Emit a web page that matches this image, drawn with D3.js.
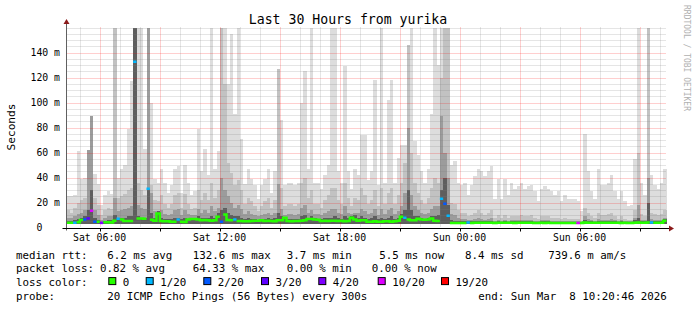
<!DOCTYPE html>
<html>
<head>
<meta charset="UTF-8">
<title>Last 30 Hours from yurika</title>
<script src="https://d3js.org/d3.v7.min.js"></script>
<style>
  html, body { margin: 0; padding: 0; background: #fff; }
  svg { display: block; font-family: "DejaVu Sans Mono", monospace; }
</style>
</head>
<body>
<svg id="chart" width="697" height="310"></svg>
<script>
// ---- data (10 minute columns, 30 hours ending Sun Mar 8 10:20:46 2026) ----
const endTime = Date.UTC(2026, 2, 8, 10, 20, 46);
const stepMin = 10;

// top of outermost smoke (max ping), ms
const maxMs = [
  25, 25, 26, 61, 39, 40, 62, 89, 43, 35, 18, 26, 29, 27, 160, 40, 47, 50, 79, 117,
  160, 160, 160, 63, 160, 100, 39, 36, 47, 36, 28, 34, 47, 49, 28, 50, 36, 26, 29, 79,
  45, 63, 42, 160, 47, 61, 160, 160, 115, 155, 91, 160, 71, 35, 47, 39, 34, 23, 34, 39,
  47, 28, 45, 127, 86, 34, 36, 36, 34, 36, 100, 125, 47, 160, 36, 36, 31, 42, 50, 160,
  160, 45, 36, 129, 45, 31, 47, 42, 74, 74, 38, 45, 118, 34, 160, 36, 102, 118, 36, 56,
  66, 66, 146, 160, 69, 58, 45, 36, 47, 91, 160, 130, 160, 160, 160, 50, 53, 36, 34, 36,
  26, 34, 41, 47, 45, 41, 45, 49, 23, 39, 23, 39, 26, 36, 31, 33, 36, 31, 33, 34,
  29, 21, 31, 33, 31, 29, 26, 29, 21, 26, 23, 23, 23, 21, 13, 75, 45, 29, 23, 47,
  34, 34, 36, 42, 29, 23, 29, 21, 17, 18, 55, 160, 36, 26, 160, 42, 34, 31, 36, 47
];
// upper smoke band, ms
const hiMs = [
  14, 12, 16, 20, 22, 24, 28, 36, 24, 18, 10, 14, 16, 15, 160, 24, 25, 27, 30, 32,
  160, 36, 30, 26, 160, 34, 22, 21, 26, 19, 16, 19, 26, 28, 16, 27, 19, 15, 16, 30,
  22, 28, 22, 36, 24, 30, 160, 115, 52, 44, 34, 38, 30, 19, 24, 21, 17, 13, 17, 21,
  24, 16, 22, 127, 32, 17, 19, 19, 17, 19, 36, 40, 24, 30, 19, 19, 16, 22, 26, 32,
  32, 22, 19, 36, 24, 17, 24, 22, 32, 26, 19, 22, 30, 17, 32, 19, 28, 32, 19, 26,
  36, 52, 146, 60, 36, 28, 22, 19, 24, 32, 40, 36, 120, 160, 160, 20, 19, 14, 12, 12,
  9, 10, 12, 14, 12, 10, 12, 14, 8, 10, 8, 10, 8, 9, 9, 9, 10, 9, 9, 10,
  8, 7, 9, 9, 9, 8, 8, 8, 7, 8, 7, 7, 7, 7, 5, 16, 12, 9, 8, 12,
  10, 10, 11, 12, 9, 7, 9, 7, 6, 6, 14, 60, 11, 9, 160, 12, 11, 10, 11, 14
];
// middle smoke band, ms
const midMs = [
  8, 8, 9, 11, 12, 14, 62, 89, 14, 10, 6, 8, 9, 9, 24, 13, 14, 15, 16, 17,
  160, 18, 16, 15, 160, 28, 13, 13, 14, 11, 10, 11, 14, 15, 10, 14, 11, 10, 10, 15,
  12, 14, 12, 17, 13, 16, 40, 30, 25, 20, 16, 18, 15, 11, 13, 11, 10, 9, 10, 11,
  12, 10, 12, 35, 15, 10, 11, 11, 10, 11, 16, 18, 12, 14, 11, 11, 10, 12, 13, 15,
  15, 12, 11, 17, 12, 11, 12, 12, 15, 13, 11, 12, 15, 10, 15, 11, 14, 16, 11, 13,
  17, 28, 80, 26, 17, 14, 12, 11, 12, 15, 17, 17, 89, 60, 40, 11, 10, 8, 7, 7,
  6, 6, 7, 8, 7, 6, 7, 8, 5, 6, 5, 6, 5, 6, 6, 6, 6, 6, 6, 6,
  5, 5, 6, 6, 6, 5, 5, 5, 5, 5, 5, 5, 5, 5, 4, 9, 7, 6, 5, 7,
  6, 6, 6, 7, 6, 5, 6, 5, 5, 5, 8, 18, 6, 6, 40, 7, 6, 6, 6, 8
];
// inner (darkest) smoke band, ms
const lowMs = [
  5, 5, 6, 7, 8, 9, 14, 30, 8, 6, 4, 5, 6, 6, 10, 8, 8, 8, 9, 9,
  160, 9, 8, 8, 31, 12, 8, 13, 8, 7, 7, 7, 8, 8, 7, 8, 7, 7, 7, 9,
  8, 8, 8, 9, 8, 12, 14, 16, 12, 10, 9, 9, 8, 7, 8, 7, 7, 6, 7, 7,
  8, 7, 8, 12, 9, 7, 7, 7, 7, 7, 9, 10, 8, 9, 8, 7, 7, 8, 8, 8,
  9, 8, 7, 9, 8, 9, 10, 8, 9, 8, 7, 8, 9, 7, 8, 7, 8, 9, 7, 8,
  11, 14, 30, 14, 9, 9, 8, 7, 8, 9, 9, 10, 30, 40, 18, 6, 5, 5, 5, 5,
  5, 5, 5, 5, 5, 5, 5, 5, 4, 5, 4, 5, 4, 5, 5, 5, 5, 5, 5, 5,
  4, 4, 5, 5, 5, 4, 4, 4, 4, 4, 4, 4, 4, 4, 4, 6, 5, 5, 4, 5,
  5, 5, 5, 5, 5, 4, 5, 4, 4, 4, 6, 8, 5, 5, 20, 5, 5, 5, 5, 7
];
// median rtt, ms
const medianMs = [
  3.9, 3.9, 3.9, 4.2, 6.0, 6.5, 7.3, 13.5, 4.7, 4.7, 3.7, 4.2, 4.2, 4.0, 5.5, 7.0, 6.5, 5.2, 5.2, 5.2,
  132.6, 7.3, 7.3, 7.0, 31.0, 6.2, 5.5, 11.3, 5.2, 5.0, 5.0, 4.7, 4.7, 6.5, 4.7, 4.5, 6.5, 6.8, 6.8, 6.5,
  5.8, 6.0, 5.8, 5.5, 5.8, 8.7, 4.7, 10.5, 6.0, 5.8, 6.5, 5.2, 5.2, 5.0, 5.0, 5.2, 5.5, 5.5, 5.8, 5.2,
  5.5, 5.2, 5.0, 5.8, 5.8, 7.9, 5.2, 5.0, 5.2, 5.2, 5.5, 5.8, 6.8, 6.8, 6.5, 6.2, 5.2, 5.5, 5.2, 5.5,
  5.5, 5.2, 5.5, 5.0, 5.2, 7.9, 6.5, 5.5, 5.8, 5.8, 4.7, 4.7, 5.0, 4.7, 4.7, 5.0, 5.0, 4.7, 5.0, 5.5,
  8.7, 7.9, 6.5, 5.8, 5.8, 7.0, 6.5, 6.2, 6.5, 7.3, 5.5, 5.2, 23.0, 19.0, 9.5, 3.7, 3.7, 3.7, 3.7, 3.7,
  4.1, 3.7, 3.9, 3.9, 3.9, 3.9, 3.9, 3.9, 3.7, 3.9, 3.9, 3.9, 3.9, 3.9, 3.7, 3.9, 3.9, 3.9, 3.9, 3.9,
  3.7, 3.7, 3.9, 3.7, 3.9, 3.7, 3.7, 3.7, 3.7, 3.7, 3.7, 3.7, 3.7, 3.7, 3.7, 4.1, 3.9, 3.9, 3.9, 3.9,
  3.9, 3.9, 3.9, 3.9, 3.9, 3.9, 3.7, 3.9, 3.7, 3.7, 3.9, 4.1, 3.9, 3.9, 4.1, 4.1, 3.9, 3.9, 3.9, 5.5
];
const baseMs = 2.5;

// columns with packet loss and their loss class
const lossCols = [2, 5, 6, 7, 8, 10, 15, 20, 24, 33, 46, 50, 101, 112, 113, 114, 120, 153, 175];
const lossVals = [1, 2, 3, 5, 2, 4, 1, 1, 1, 1, 2, 1, 1, 1, 2, 1, 1, 5, 1];

const lossLabels = ["0", "1/20", "2/20", "3/20", "4/20", "10/20", "19/20"];
const lossColors = ["#26ff00", "#00b8ff", "#0059ff", "#5e00ff", "#7e00ff", "#dd00ff", "#ff0000"];

const smokeColors = ["#dddddd", "#c2c2c2", "#9c9c9c", "#5e5e5e"];

const rttStats = ["6.2 ms avg", "132.6 ms max", "3.7 ms min", "5.5 ms now", "8.4 ms sd", "739.6 m am/s"];
const lossStats = ["0.82 % avg", "64.33 % max", "0.00 % min", "0.00 % now"];

// ---- layout ----
const svg = d3.select("#chart");
const L = 66.5, R = 666.5, T = 27.5, B = 227.5;
const startTime = endTime - 30 * 3600 * 1000;

const x = d3.scaleUtc().domain([new Date(startTime), new Date(endTime)]).range([L, R]);
const y = d3.scaleLinear().domain([0, 160]).range([B, T]);

const colTime = i => new Date(startTime + i * stepMin * 60000);
const cols = d3.range(maxMs.length);
const clampMs = v => Math.min(v, 160);

// smoke layers
const layers = [maxMs, hiMs, midMs, lowMs];
layers.forEach((arr, k) => {
  svg.append("g").selectAll("rect").data(cols).join("rect")
    .attr("x", i => x(colTime(i)))
    .attr("width", i => x(colTime(i + 1)) - x(colTime(i)) + 0.3)
    .attr("y", i => y(clampMs(arr[i])))
    .attr("height", i => Math.max(0, y(baseMs) - y(clampMs(arr[i]))))
    .attr("fill", smokeColors[k])
    .attr("shape-rendering", "crispEdges");
});

// grid (drawn over the smoke, like rrdtool)
const grid = svg.append("g");
const minorY = d3.range(5, 161, 5).filter(v => v % 20 !== 0 || v === 160);
const majorY = d3.range(20, 141, 20);
const gridLineY = (data, col, op) => grid.append("g").selectAll("line").data(data).join("line")
  .attr("x1", L).attr("x2", R)
  .attr("y1", d => Math.round(y(d)) + 0.5).attr("y2", d => Math.round(y(d)) + 0.5)
  .attr("stroke", col).attr("stroke-opacity", op).attr("stroke-dasharray", "1,1");
gridLineY(minorY, "#808080", 0.4);
gridLineY(majorY, "#ff0000", 0.38);

const hours = d3.utcHour.range(new Date(startTime), new Date(endTime));
const minorX = hours.filter(d => d.getUTCHours() % 3 !== 0);
const majorX = hours.filter(d => d.getUTCHours() % 3 === 0);
const gridLineX = (data, col, op) => grid.append("g").selectAll("line").data(data).join("line")
  .attr("x1", d => Math.round(x(d)) + 0.5).attr("x2", d => Math.round(x(d)) + 0.5)
  .attr("y1", T).attr("y2", B)
  .attr("stroke", col).attr("stroke-opacity", op).attr("stroke-dasharray", "1,1");
gridLineX(minorX, "#808080", 0.4);
gridLineX(majorX, "#ff0000", 0.38);

// median line, one path per loss colour
const lossOf = i => { const j = lossCols.indexOf(i); return j < 0 ? 0 : lossVals[j]; };
const medLine = d3.line().defined(d => d !== null).x(d => x(d[0])).y(d => y(clampMs(d[1])));
lossColors.forEach((c, k) => {
  const pts = [];
  cols.forEach(i => {
    if (lossOf(i) === k) {
      pts.push([colTime(i), medianMs[i]], [colTime(i + 1), medianMs[i]]);
      if (lossOf(i + 1) !== k) pts.push(null);
    }
  });
  if (!pts.length) return;
  svg.append("path").attr("d", medLine(pts))
    .attr("fill", "none").attr("stroke", c).attr("stroke-width", 2.5);
});

// axes
svg.append("line").attr("x1", L).attr("x2", L).attr("y1", B + 3).attr("y2", 24)
  .attr("stroke", "#606060");
svg.append("path").attr("d", `M${L - 3},24 L${L + 3},24 L${L},19 Z`).attr("fill", "#8b1a1a");
svg.append("line").attr("x1", L - 4).attr("x2", 670).attr("y1", B + 1).attr("y2", B + 1)
  .attr("stroke", "#000").attr("stroke-width", 1.2);
svg.append("path").attr("d", `M669,${B - 2} L669,${B + 4} L674,${B + 1} Z`).attr("fill", "#8b1a1a");

svg.selectAll(".xt").data(majorX).join("line")
  .attr("x1", d => Math.round(x(d)) + 0.5).attr("x2", d => Math.round(x(d)) + 0.5)
  .attr("y1", B + 1).attr("y2", B + 4).attr("stroke", "#000");

// y tick labels
const yFmt = v => v === 0 ? "0\u00a0\u00a0\u00a0" : v + " m";
svg.append("g").selectAll("text").data(d3.range(0, 141, 20)).join("text")
  .attr("x", 60).attr("y", d => y(d) + 3.5)
  .attr("text-anchor", "end").attr("font-size", 9.8).attr("fill", "#000")
  .text(yFmt);

// x tick labels
const labelTimes = hours.filter(d => d.getUTCHours() % 6 === 0);
const xFmt = d3.utcFormat("%a %H:%M");
svg.append("g").selectAll("text").data(labelTimes).join("text")
  .attr("x", d => x(d)).attr("y", 241)
  .attr("text-anchor", "middle").attr("font-size", 9.8).attr("fill", "#000")
  .text(xFmt);

// titles
svg.append("text").attr("x", 348).attr("y", 24).attr("text-anchor", "middle")
  .attr("font-size", 13.2).text("Last 30 Hours from yurika");
svg.append("text").attr("transform", "translate(15,127) rotate(-90)")
  .attr("text-anchor", "middle").attr("font-size", 11.2).text("Seconds");
svg.append("text").attr("transform", "translate(684,5) rotate(90)")
  .attr("font-size", 8).attr("fill", "#b0b0b0").text("RRDTOOL / TOBI OETIKER");

// legend
const lg = svg.append("g").attr("font-size", 10.8).attr("fill", "#000");
const row = [258.5, 272.3, 286.1, 299.9];
lg.append("text").attr("x", 16).attr("y", row[0]).text("median rtt:");
const rttX = [107.3, 192.7, 286.7, 379.3, 465, 548.3];
rttStats.forEach((s, i) => lg.append("text").attr("x", rttX[i]).attr("y", row[0]).text(s));
lg.append("text").attr("x", 16).attr("y", row[1]).text("packet loss:");
const lossX = [100, 192.7, 286.7, 371.7];
lossStats.forEach((s, i) => lg.append("text").attr("x", lossX[i]).attr("y", row[1]).text(s));
lg.append("text").attr("x", 16).attr("y", row[2]).text("loss color:");
const boxX = [108.3, 145.7, 203.3, 261, 318.3, 377.7, 441];
lossLabels.forEach((s, i) => {
  lg.append("rect").attr("x", boxX[i] + 0.5).attr("y", row[2] - 8.5).attr("width", 7).attr("height", 7)
    .attr("fill", lossColors[i]).attr("stroke", "#000").attr("stroke-width", 1);
  lg.append("text").attr("x", boxX[i] + 14.5).attr("y", row[2]).text(s);
});
lg.append("text").attr("x", 16).attr("y", row[3]).text("probe:");
lg.append("text").attr("x", 107.3).attr("y", row[3]).text("20 ICMP Echo Pings (56 Bytes) every 300s");
lg.append("text").attr("x", 478.3).attr("y", row[3]).attr("xml:space", "preserve")
  .text("end: Sun Mar\u00a0\u00a08 10:20:46 2026");
</script>
</body>
</html>
